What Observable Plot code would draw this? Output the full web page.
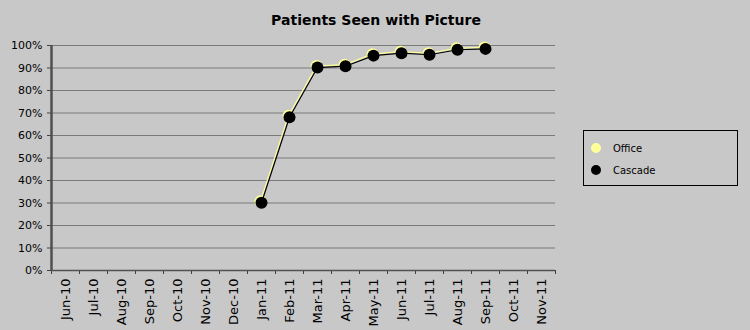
<!DOCTYPE html>
<html><head><meta charset="utf-8">
<script src="https://cdn.jsdelivr.net/npm/d3@7"></script>
<script src="https://cdn.jsdelivr.net/npm/@observablehq/plot@0.6"></script>
<style>
html,body{margin:0;padding:0;background:#c8c8c8;}
#wrap{position:relative;width:750px;height:330px;background:#c8c8c8;font-family:"DejaVu Sans",sans-serif;}
#title{position:absolute;left:0;top:11px;width:752px;text-align:center;font-size:14px;font-weight:bold;color:#000;line-height:18px;}
#legend{position:absolute;left:583px;top:130px;width:153px;height:54px;border:1px solid #000;box-sizing:content-box;font-size:10px;color:#000;}
.li{position:absolute;left:0;height:14px;display:flex;align-items:center;}
.dot{width:10px;height:10px;border-radius:50%;margin-left:7px;margin-right:12px;}
</style>
</head><body><div id="wrap"></div>
<script>
const title = "Patients Seen with Picture";
const months = ["Jun-10","Jul-10","Aug-10","Sep-10","Oct-10","Nov-10","Dec-10","Jan-11","Feb-11","Mar-11","Apr-11","May-11","Jun-11","Jul-11","Aug-11","Sep-11","Oct-11","Nov-11"];
const cascade = [null,null,null,null,null,null,null,0.301,0.681,0.902,0.908,0.955,0.966,0.959,0.981,0.985,null,null];
const office  = [null,null,null,null,null,null,null,0.301,0.681,0.902,0.908,0.955,0.966,0.959,0.981,0.985,null,null];
const seriesNames = ["Office","Cascade"];
const colors = {Office:"#ffff99", Cascade:"#000000"};
const yTicks = d3.range(0, 1.0001, 0.1);

const rows = [];
months.forEach((m,i)=>{
  if (office[i]!=null) rows.push({series:"Office", i, month:m, v:office[i]});
  if (cascade[i]!=null) rows.push({series:"Cascade", i, month:m, v:cascade[i]});
});
const officeRows = rows.filter(d=>d.series==="Office");
const cascadeRows = rows.filter(d=>d.series==="Cascade");
const xc = d => d.i + 0.5;

const chart = Plot.plot({
  width: 750, height: 330,
  marginLeft: 51, marginRight: 195, marginTop: 45, marginBottom: 60,
  style: {background: "#c8c8c8", fontFamily: "DejaVu Sans, sans-serif", fontSize: "11px", color: "#000"},
  x: {type: "linear", domain: [0, months.length], axis: null},
  y: {domain: [0, 1], axis: null},
  marks: [
    Plot.ruleY(yTicks.slice(1), {stroke: "#7a7a7a", strokeWidth: 1, strokeOpacity: 1}),
    Plot.axisY({ticks: yTicks, tickFormat: d => Math.round(d*100) + "%", tickSize: 4, tickPadding: 5, stroke: "#404040", fill: "#000", label: null, strokeOpacity: 1}),
    Plot.axisX({ticks: d3.range(months.length + 1), tickFormat: () => "", tickSize: 4, stroke: "#404040", label: null, strokeOpacity: 1}),
    Plot.axisX({ticks: d3.range(months.length).map(i => i + 0.5), tickFormat: t => months[Math.round(t - 0.5)], tickSize: 0, tickPadding: 8, tickRotate: -90, label: null, fill: "#000", fontSize: 13}),
    Plot.ruleX([0], {stroke: "#505050", strokeWidth: 2.5}),
    Plot.ruleY([0], {stroke: "#505050", strokeWidth: 1.5}),
    Plot.line(officeRows, {x: xc, y: "v", stroke: colors.Office, strokeWidth: 1.2, dx: -1, dy: -1.5}),
    Plot.dot(officeRows, {x: xc, y: "v", r: 6, fill: colors.Office, stroke: "none", dx: -1, dy: -1.5}),
    Plot.line(cascadeRows, {x: xc, y: "v", stroke: colors.Cascade, strokeWidth: 1.2}),
    Plot.dot(cascadeRows, {x: xc, y: "v", r: 6, fill: colors.Cascade, stroke: "none"})
  ]
});
chart.style.position = "absolute";
chart.style.left = "0px";
chart.style.top = "0px";
const wrap = document.getElementById("wrap");
wrap.appendChild(chart);

const t0 = document.createElement("div");
t0.id = "title";
t0.textContent = title;
wrap.appendChild(t0);

const legend = document.createElement("div");
legend.id = "legend";
seriesNames.forEach((s, k) => {
  const li = document.createElement("div");
  li.className = "li";
  li.style.top = (10 + k*22) + "px";
  const dot = document.createElement("span");
  dot.className = "dot";
  dot.style.background = colors[s];
  const t = document.createElement("span");
  t.textContent = s;
  li.appendChild(dot); li.appendChild(t);
  legend.appendChild(li);
});
wrap.appendChild(legend);
</script></body></html>
